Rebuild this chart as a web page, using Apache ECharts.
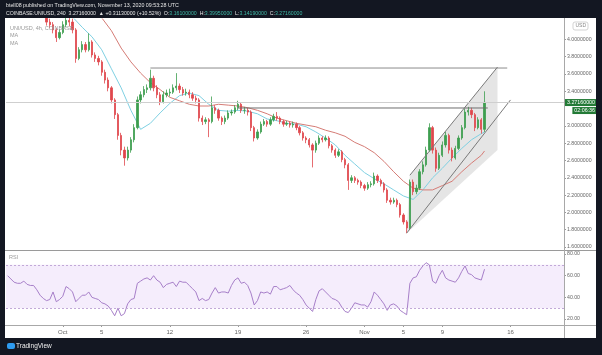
<!DOCTYPE html>
<html><head><meta charset="utf-8">
<script src="https://cdn.jsdelivr.net/npm/echarts@6/dist/echarts.min.js"></script>
<style>html,body{margin:0;padding:0;background:#fff;}#c{width:602px;height:355px;}</style>
</head><body><div id="c"></div><script>
// ---- data (8h candles, COINBASE:UNIUSD) ----
const candleStart = Date.UTC(2020, 8, 25, 8);   // first slot: Sep 25 08:00 UTC
const slotCount = 172;                            // axis slots incl. empty right margin
// [open, close, low, high]
const ohlc = [
[4.62,4.55,4.50,4.66],[4.55,4.60,4.52,4.64],[4.60,4.52,4.48,4.63],[4.52,4.48,4.44,4.56],[4.48,4.50,4.45,4.54],
[4.50,4.45,4.41,4.53],[4.45,4.40,4.36,4.48],[4.40,4.42,4.37,4.46],[4.42,4.35,4.31,4.44],[4.35,4.30,4.26,4.38],
[4.30,4.32,4.27,4.36],[4.32,4.28,4.24,4.35],[4.28,4.20,4.16,4.30],[4.20,4.17,4.13,4.24],[4.17,4.11,4.07,4.20],
[4.11,4.02,3.97,4.13],[4.02,4.08,4.00,4.12],[4.08,4.17,4.06,4.21],[4.17,4.22,4.14,4.30],[4.22,4.20,4.15,4.28],
[4.20,4.11,4.07,4.24],[4.11,3.78,3.73,4.13],[3.78,3.88,3.76,3.91],[3.88,3.94,3.85,3.98],[3.94,3.88,3.85,3.97],
[3.88,3.97,3.86,4.07],[3.97,3.82,3.79,3.99],[3.82,3.78,3.74,3.85],[3.78,3.74,3.70,3.81],[3.74,3.62,3.58,3.76],
[3.62,3.53,3.49,3.65],[3.53,3.44,3.40,3.56],[3.44,3.30,3.26,3.46],[3.30,3.13,3.08,3.32],[3.13,2.89,2.84,3.15],
[2.89,2.72,2.66,2.92],[2.72,2.63,2.54,2.76],[2.63,2.72,2.60,2.76],[2.72,2.84,2.69,2.87],[2.84,2.98,2.81,3.02],
[2.98,3.30,2.96,3.34],[3.30,3.36,3.26,3.40],[3.36,3.42,3.33,3.46],[3.42,3.44,3.38,3.48],[3.44,3.55,3.41,3.65],
[3.55,3.44,3.40,3.58],[3.44,3.36,3.32,3.47],[3.36,3.28,3.24,3.39],[3.28,3.36,3.26,3.40],[3.36,3.38,3.33,3.42],
[3.38,3.39,3.34,3.43],[3.39,3.44,3.37,3.48],[3.44,3.46,3.41,3.61],[3.46,3.42,3.38,3.49],[3.42,3.38,3.35,3.45],
[3.38,3.39,3.35,3.43],[3.39,3.36,3.32,3.42],[3.36,3.32,3.29,3.39],[3.32,3.30,3.26,3.35],[3.30,3.09,3.05,3.32],
[3.09,3.05,3.01,3.12],[3.05,3.07,3.02,3.10],[3.07,3.05,2.87,3.09],[3.05,3.21,3.03,3.34],[3.21,3.18,3.14,3.24],
[3.18,3.09,3.06,3.20],[3.09,3.05,3.01,3.11],[3.05,3.09,3.02,3.12],[3.09,3.15,3.07,3.18],[3.15,3.16,3.12,3.19],
[3.16,3.21,3.14,3.24],[3.21,3.25,3.18,3.29],[3.25,3.18,3.15,3.27],[3.18,3.18,3.14,3.22],[3.18,3.16,3.12,3.21],
[3.16,2.98,2.94,3.18],[2.98,2.86,2.82,3.00],[2.86,2.93,2.84,2.96],[2.93,3.02,2.91,3.05],[3.02,3.05,3.00,3.08],
[3.05,3.02,2.99,3.07],[3.02,3.07,3.00,3.10],[3.07,3.11,3.05,3.14],[3.11,3.09,3.06,3.16],[3.09,3.05,3.02,3.11],
[3.05,3.02,2.99,3.07],[3.02,3.03,3.00,3.06],[3.03,3.01,2.98,3.05],[3.01,3.02,2.98,3.05],[3.02,2.98,2.95,3.04],
[2.98,2.92,2.89,3.00],[2.92,2.86,2.83,2.94],[2.86,2.84,2.80,2.88],[2.84,2.78,2.75,2.86],[2.78,2.72,2.52,2.80],
[2.72,2.80,2.69,2.83],[2.80,2.86,2.78,2.89],[2.86,2.84,2.81,2.88],[2.84,2.86,2.82,2.89],[2.86,2.77,2.74,2.88],
[2.77,2.72,2.69,2.79],[2.72,2.66,2.63,2.74],[2.66,2.70,2.64,2.73],[2.70,2.61,2.58,2.72],[2.61,2.55,2.51,2.63],
[2.55,2.37,2.26,2.57],[2.37,2.40,2.34,2.43],[2.40,2.37,2.34,2.42],[2.37,2.35,2.32,2.39],[2.35,2.31,2.28,2.37],
[2.31,2.28,2.25,2.33],[2.28,2.32,2.26,2.35],[2.32,2.33,2.29,2.36],[2.33,2.42,2.31,2.46],[2.42,2.37,2.34,2.44],
[2.37,2.33,2.30,2.39],[2.33,2.26,2.23,2.35],[2.26,2.14,2.11,2.28],[2.14,2.12,2.09,2.17],[2.12,2.14,2.10,2.17],
[2.14,2.09,2.06,2.16],[2.09,1.97,1.94,2.11],[1.97,1.89,1.86,1.99],[1.89,1.82,1.76,1.91],[1.82,2.35,1.80,2.38],
[2.35,2.24,2.20,2.38],[2.24,2.28,2.21,2.32],[2.28,2.47,2.26,2.50],[2.47,2.55,2.44,2.59],[2.55,2.72,2.53,2.76],
[2.72,2.98,2.70,3.03],[2.98,2.72,2.68,3.00],[2.72,2.51,2.47,2.75],[2.51,2.66,2.49,2.69],[2.66,2.78,2.64,2.82],
[2.78,2.89,2.75,2.93],[2.89,2.72,2.68,2.91],[2.72,2.63,2.59,2.75],[2.63,2.74,2.61,2.77],[2.74,2.86,2.72,2.89],
[2.86,2.98,2.84,3.01],[2.98,3.16,2.96,3.20],[3.16,3.18,3.12,3.22],[3.18,3.13,3.09,3.21],[3.13,2.98,2.94,3.15],
[2.98,3.07,2.96,3.10],[3.07,2.96,2.91,3.09],[2.96,3.2716,2.93,3.40]
];
const rsi = [
60,57,54,53,53,55,52,51,51,47,
42,39,37,38,45,36,38,41,50,48,
45,36,39,42,42,45,40,39,38,35,
34,32,28,23,30,23,25,34,38,39,
53,55,57,58,56,60,56,54,49,52,
53,54,50,55,54,54,51,48,45,37,
39,37,38,44,49,44,45,45,44,51,
56,58,53,54,51,44,33,37,45,44,
45,43,50,50,47,48,49,51,47,44,
42,38,33,30,27,38,46,48,45,42,
39,38,36,31,27,26,30,35,34,33,
33,31,36,45,42,38,34,28,33,34,
32,28,26,24,53,58,59,65,69,72,
70,55,53,60,65,58,56,55,54,58,
64,69,62,61,58,57,56,66
];
const maDates = ['09-26 00','09-27 00','09-28 00','09-29 00','09-30 00',
'10-01 00','10-02 00','10-03 00','10-04 00','10-05 00','10-06 00','10-07 00','10-08 00','10-09 00','10-10 00',
'10-11 00','10-12 00','10-13 00','10-14 00','10-15 00','10-16 00','10-17 00','10-18 00','10-19 00','10-20 00',
'10-21 00','10-22 00','10-23 00','10-24 00','10-25 00','10-26 00','10-27 00','10-28 00','10-29 00','10-30 00','10-31 00',
'11-01 00','11-02 00','11-03 00','11-04 00','11-05 00','11-06 00','11-07 00','11-08 00','11-09 00','11-10 00',
'11-11 00','11-12 00','11-13 00','11-13 08'];
const maFast = [4.62,4.58,4.53,4.48,4.42,
4.36,4.26,4.14,4.03,3.88,3.66,3.44,3.18,2.96,3.03,
3.15,3.26,3.35,3.38,3.35,3.25,3.18,3.17,3.18,3.17,
3.14,3.08,3.06,3.03,3.02,2.99,2.93,2.86,2.78,2.66,2.56,
2.46,2.39,2.33,2.26,2.19,2.15,2.26,2.40,2.51,2.63,
2.74,2.84,2.91,2.93];
const maSlow = [5.10,5.00,4.90,4.80,4.70,
4.61,4.52,4.43,4.34,4.25,4.10,3.90,3.74,3.61,3.50,
3.42,3.33,3.29,3.25,3.23,3.23,3.25,3.24,3.23,3.21,
3.18,3.14,3.09,3.06,3.03,3.01,2.99,2.95,2.92,2.88,2.81,
2.76,2.69,2.59,2.47,2.36,2.28,2.26,2.26,2.31,2.36,
2.47,2.57,2.66,2.71];
const priceTicks = [1.6,1.8,2.0,2.2,2.4,2.6,2.8,3.0,3.4,3.6,3.8,4.0];
const rsiTicks = [20,40,60,80];
const xTickCats = ['10-01 00','10-05 00','10-12 00','10-19 00','10-26 00','11-01 00','11-05 00','11-09 00','11-16 00'];
const xTickText = ['Oct','5','12','19','26','Nov','5','9','16'];
// drawn trend lines (date slot, price)
const rangeHigh = [['10-10 00',3.669],['11-15 16',3.669]];
const rangeMid  = [['10-19 00',3.207],['11-13 16',3.207]];
const chanLower = [['11-05 08',1.76],['11-16 00',3.30]];
const chanUpper = [['11-05 16',2.43],['11-14 16',3.68]];
const chanFill  = [['11-05 16',2.43],['11-14 16',3.68],['11-14 16',2.72],['11-05 08',1.76]];
const countdown = '02:06:36';

// ---- build ----
const pad = n => (n < 10 ? '0' : '') + n;
const cats = [];
for (let i = 0; i < slotCount; i++) {
  const d = new Date(candleStart + i * 8 * 3600e3);
  cats.push(pad(d.getUTCMonth() + 1) + '-' + pad(d.getUTCDate()) + ' ' + pad(d.getUTCHours()));
}
const lastClose = ohlc[ohlc.length - 1][1];
const UP = '#3d9e4f', DOWN = '#e0474c';
const FONT = 'Liberation Sans, Arial, sans-serif';
const isTick = (idx, name) => xTickCats.indexOf(cats[idx] !== undefined ? cats[idx] : name) >= 0;

const chart = echarts.init(document.getElementById('c'), null, {renderer: 'canvas'});
const grids = [
  {left: 6, top: 19, width: 558, height: 231},
  {left: 6, top: 251, width: 558, height: 74}
];
const trendStyle = (c) => ({type: 'line', xAxisIndex: 0, yAxisIndex: 0, symbol: 'none', silent: true,
  lineStyle: {color: c, width: 1}, z: 4});

chart.setOption({
  animation: false,
  backgroundColor: '#ffffff',
  textStyle: {fontFamily: FONT},
  grid: grids,
  xAxis: [
    {type: 'category', gridIndex: 0, data: cats, boundaryGap: true,
     axisLine: {show: false}, axisTick: {show: false}, axisLabel: {show: false}, splitLine: {show: false}},
    {type: 'category', gridIndex: 1, data: cats, boundaryGap: true,
     axisLine: {show: false},
     axisTick: {show: true, alignWithLabel: true, interval: isTick, length: 2, lineStyle: {color: '#999'}},
     axisLabel: {show: true, interval: isTick, fontSize: 6, color: '#666', margin: 4,
       formatter: (name) => xTickText[xTickCats.indexOf(name)]},
     splitLine: {show: false}}
  ],
  yAxis: [
    {type: 'value', gridIndex: 0, position: 'right', min: 1.5653, max: 4.2358, scale: true,
     axisLine: {show: false}, splitLine: {show: false},
     axisTick: {show: true, customValues: priceTicks, length: 2, lineStyle: {color: '#999'}},
     axisLabel: {show: true, customValues: priceTicks, fontSize: 5.2, color: '#666', margin: 3,
       formatter: v => Number(v).toFixed(7)}},
    {type: 'value', gridIndex: 1, position: 'right', min: 14.5, max: 82.8,
     axisLine: {show: false}, splitLine: {show: false},
     axisTick: {show: true, customValues: rsiTicks, length: 2, lineStyle: {color: '#999'}},
     axisLabel: {show: true, customValues: rsiTicks, fontSize: 5.2, color: '#666', margin: 3,
       formatter: v => Number(v).toFixed(2)}}
  ],
  series: [
    {type: 'custom', xAxisIndex: 0, yAxisIndex: 0, z: 1, silent: true, data: [[0, 2.5]],
     renderItem: (params, api) => ({
       type: 'polygon',
       shape: {points: chanFill.map(p => api.coord([cats.indexOf(p[0]), p[1]]))},
       style: {fill: 'rgba(110,110,110,0.18)'}
     })},
    {type: 'candlestick', xAxisIndex: 0, yAxisIndex: 0, data: ohlc, barWidth: 1.8, z: 3,
     itemStyle: {color: UP, color0: DOWN, borderColor: UP, borderColor0: DOWN, borderWidth: 0.8},
     markLine: {silent: true, symbol: ['none', 'none'], animation: false,
       lineStyle: {color: '#cfcfcf', width: 1, type: 'solid'},
       label: {show: true, position: 'end', distance: 1, padding: [8, 0, 0, 0],
         formatter: () => '{p|' + lastClose.toFixed(8) + '}\n{t|' + countdown + '}',
         rich: {
           p: {backgroundColor: '#237a36', color: '#fff', fontSize: 5.3, padding: [1, 2, 1, 2], lineHeight: 8, fontFamily: FONT},
           t: {backgroundColor: '#237a36', color: '#fff', fontSize: 5.3, padding: [1, 2, 1, 2], lineHeight: 8, align: 'right', fontFamily: FONT}
         }},
       data: [{yAxis: lastClose}]}},
    {type: 'line', name: 'MA fast', xAxisIndex: 0, yAxisIndex: 0, symbol: 'none', silent: true, z: 2,
     data: maDates.map((d, i) => [d, maFast[i]]), lineStyle: {color: '#7fd0e2', width: 1}},
    {type: 'line', name: 'MA slow', xAxisIndex: 0, yAxisIndex: 0, symbol: 'none', silent: true, z: 2,
     data: maDates.map((d, i) => [d, maSlow[i]]), lineStyle: {color: '#d57c76', width: 1}},
    Object.assign(trendStyle('#8c8c8c'), {data: rangeHigh}),
    Object.assign(trendStyle('#6e6e6e'), {data: rangeMid}),
    Object.assign(trendStyle('#7a7a7a'), {data: chanLower}),
    Object.assign(trendStyle('#7a7a7a'), {data: chanUpper}),
    {type: 'line', name: 'RSI', xAxisIndex: 1, yAxisIndex: 1, symbol: 'none', silent: true, data: rsi,
     lineStyle: {color: '#a77fc9', width: 1}, z: 3,
     markArea: {silent: true, itemStyle: {color: 'rgba(190,140,235,0.16)'}, data: [[{yAxis: 30}, {yAxis: 70}]]},
     markLine: {silent: true, symbol: ['none', 'none'], label: {show: false},
       lineStyle: {color: '#c2a9d8', type: [2, 2], width: 1}, data: [{yAxis: 70}, {yAxis: 30}]}}
  ],
  graphic: [
    // frame
    {type: 'rect', shape: {x: 0, y: 0, width: 602, height: 18}, style: {fill: '#131722'}, z: 10},
    {type: 'rect', shape: {x: 0, y: 338, width: 602, height: 17}, style: {fill: '#131722'}, z: 10},
    {type: 'rect', shape: {x: 0, y: 0, width: 5, height: 355}, style: {fill: '#131722'}, z: 10},
    {type: 'rect', shape: {x: 596, y: 0, width: 6, height: 355}, style: {fill: '#131722'}, z: 10},
    {type: 'line', shape: {x1: 5, y1: 250.5, x2: 596, y2: 250.5}, style: {stroke: '#9a9a9a', lineWidth: 1.2}, z: 10},
    {type: 'line', shape: {x1: 5, y1: 325.5, x2: 596, y2: 325.5}, style: {stroke: '#a8a8a8', lineWidth: 1}, z: 10},
    {type: 'line', shape: {x1: 564.5, y1: 18, x2: 564.5, y2: 338}, style: {stroke: '#a8a8a8', lineWidth: 1}, z: 10},
    // header texts
    {type: 'text', left: 6, top: 3, z: 11, style: {text: 'btell08 published on TradingView.com, November 13, 2020 09:53:28 UTC',
      fill: '#e6e6e6', fontSize: 5.3, fontFamily: FONT}},
    {type: 'text', left: 6, top: 11, z: 11, style: {
      text: '{w|COINBASE:UNIUSD, 240  3.27160000  \u25B2 +0.31130000 (+10.52%)  O:}{g|3.16100000}{w|  H:}{g|3.39950000}{w|  L:}{g|3.14190000}{w|  C:}{g|3.27160000}',
      rich: {w: {fill: '#e6e6e6', fontSize: 5.2, fontFamily: FONT}, g: {fill: '#3fb8a5', fontSize: 5.2, fontFamily: FONT}}}},
    // pane legends
    {type: 'text', left: 10, top: 25, z: 11, style: {text: 'UNI/USD, 4h, COINBASE', fill: '#9a9a9a', fontSize: 5.5, fontFamily: FONT}},
    {type: 'text', left: 10, top: 32.5, z: 11, style: {text: 'MA', fill: '#9a9a9a', fontSize: 5.5, fontFamily: FONT}},
    {type: 'text', left: 10, top: 40, z: 11, style: {text: 'MA', fill: '#9a9a9a', fontSize: 5.5, fontFamily: FONT}},
    {type: 'text', left: 9, top: 254, z: 11, style: {text: 'RSI', fill: '#9a9a9a', fontSize: 5.5, fontFamily: FONT}},
    // currency box
    {type: 'rect', shape: {x: 573, y: 22, width: 15, height: 8, r: 2}, style: {fill: '#fff', stroke: '#c8c8c8', lineWidth: 0.8}, z: 11},
    {type: 'text', left: 575.5, top: 23.5, z: 12, style: {text: 'USD', fill: '#888', fontSize: 5, fontFamily: FONT}},
    // footer
    {type: 'rect', shape: {x: 7, y: 343, width: 8, height: 6, r: 2}, style: {fill: '#2e9bf0'}, z: 11},
    {type: 'text', left: 16, top: 342.5, z: 11, style: {text: 'TradingView', fill: '#f0f0f0', fontSize: 6.5, fontFamily: FONT}}
  ]
});
</script></body></html>
